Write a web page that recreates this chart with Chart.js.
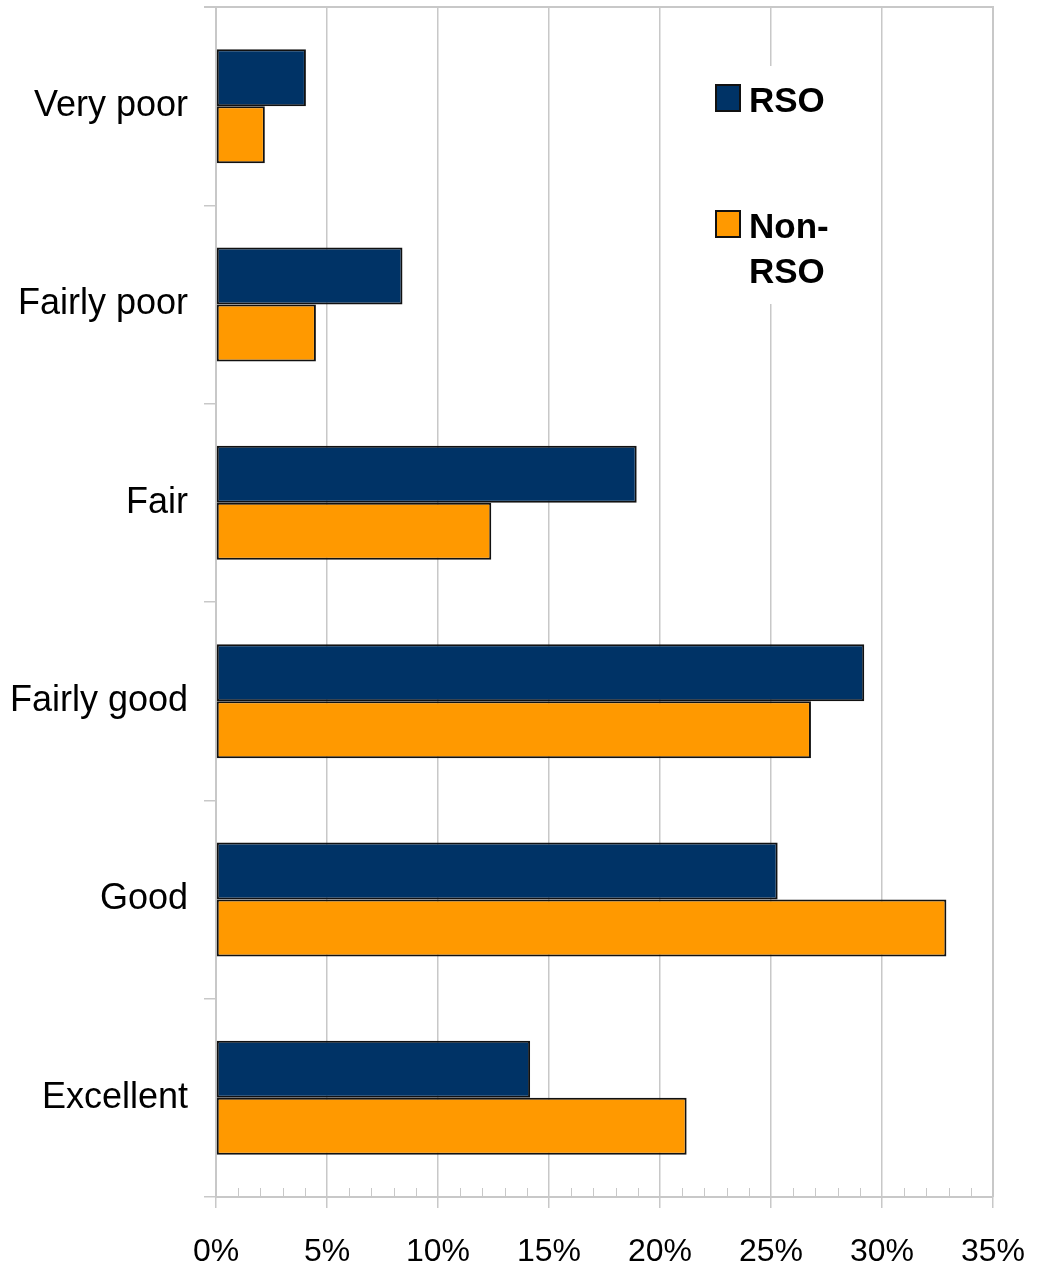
<!DOCTYPE html>
<html lang="en">
<head>
<meta charset="utf-8">
<title>RSO vs Non-RSO</title>
<script src="https://cdn.jsdelivr.net/npm/chart.js@4"></script>
<style>
  html, body { margin: 0; padding: 0; background: #fff; }
  #wrap { width: 1043px; height: 1265px; }
</style>
</head>
<body>
<div id="wrap"><canvas id="chart" width="1043" height="1265"></canvas></div>
<script>
const categories = ['Very poor', 'Fairly poor', 'Fair', 'Fairly good', 'Good', 'Excellent'];
const rsoValues = [4.05, 8.4, 18.95, 29.2, 25.3, 14.15];
const nonRsoValues = [2.2, 4.5, 12.4, 26.8, 32.9, 21.2];
const xTicks = [0, 5, 10, 15, 20, 25, 30, 35];

const gridGray = '#c8c8c8';

// plot frame, minor ticks on the x axis, and the legend box on top
const extras = {
    id: 'extras',
    beforeDatasetsDraw(chart) {
        const ctx = chart.ctx;
        const a = chart.chartArea;
        ctx.save();
        ctx.strokeStyle = gridGray;
        ctx.lineWidth = 2;
        ctx.beginPath();
        ctx.moveTo(a.left - 12, a.top);
        ctx.lineTo(a.right, a.top);
        ctx.lineTo(a.right, a.bottom);
        ctx.stroke();
        // minor ticks every 1%
        const xs = chart.scales.x;
        ctx.lineWidth = 1;
        ctx.beginPath();
        for (let i = 1; i < 35; i++) {
            if (i % 5 === 0) continue;
            const px = Math.round(xs.getPixelForValue(i)) + 0.5;
            ctx.moveTo(px, a.bottom - 9);
            ctx.lineTo(px, a.bottom);
        }
        ctx.stroke();
        ctx.restore();
    },
    afterDraw(chart) {
        const ctx = chart.ctx;
        const ds = chart.data.datasets;
        ctx.save();
        ctx.fillStyle = '#fff';
        ctx.fillRect(706, 66, 140, 238);
        ctx.font = 'bold 35px "Liberation Sans", Arial, sans-serif';
        ctx.textBaseline = 'alphabetic';
        const items = [
            { y: 85, lines: ['RSO'], ds: ds[0] },
            { y: 211, lines: ['Non-', 'RSO'], ds: ds[1] }
        ];
        for (const it of items) {
            ctx.fillStyle = it.ds.backgroundColor;
            ctx.fillRect(716, it.y, 24, 26);
            ctx.strokeStyle = '#111';
            ctx.lineWidth = 2;
            ctx.strokeRect(716, it.y, 24, 26);
            ctx.fillStyle = '#000';
            it.lines.forEach((t, k) => ctx.fillText(t, 749, it.y + 27 + k * 45));
        }
        ctx.restore();
    }
};

new Chart(document.getElementById('chart').getContext('2d'), {
    type: 'bar',
    data: {
        labels: categories,
        datasets: [{
            label: 'RSO',
            data: rsoValues,
            backgroundColor: '#003366',
            borderColor: '#111',
            borderWidth: 2,
            borderSkipped: false
        }, {
            label: 'Non-RSO',
            data: nonRsoValues,
            backgroundColor: '#ff9900',
            borderColor: '#111',
            borderWidth: 2,
            borderSkipped: false
        }]
    },
    options: {
        indexAxis: 'y',
        responsive: false,
        animation: false,
        layout: { padding: { top: 7, right: 50, left: 0, bottom: 0 } },
        plugins: {
            legend: { display: false },
            tooltip: { enabled: false }
        },
        datasets: {
            bar: { categoryPercentage: 0.575, barPercentage: 1.0 }
        },
        scales: {
            x: {
                min: 0,
                max: 35,
                afterBuildTicks(scale) {
                    scale.ticks = xTicks.map(v => ({ value: v }));
                },
                afterFit(scale) {
                    scale.height = 68;
                    scale.paddingLeft = 0;
                    scale.paddingRight = 0;
                },
                grid: {
                    color: gridGray,
                    lineWidth: 1.5,
                    tickLength: 11,
                    drawTicks: true
                },
                border: { color: gridGray, width: 2 },
                ticks: {
                    color: '#000',
                    padding: 25,
                    maxRotation: 0,
                    font: { family: '"Liberation Sans", Arial, sans-serif', size: 32 },
                    callback: v => v + '%'
                }
            },
            y: {
                afterFit(scale) {
                    scale.width = 216;
                    scale.paddingTop = 0;
                    scale.paddingBottom = 0;
                },
                grid: {
                    offset: true,
                    drawOnChartArea: false,
                    color: gridGray,
                    lineWidth: 1.5,
                    tickLength: 12
                },
                border: { color: gridGray, width: 2 },
                ticks: {
                    color: '#000',
                    padding: 16,
                    font: { family: '"Liberation Sans", Arial, sans-serif', size: 36 }
                }
            }
        }
    },
    plugins: [extras]
});
</script>
</body>
</html>
